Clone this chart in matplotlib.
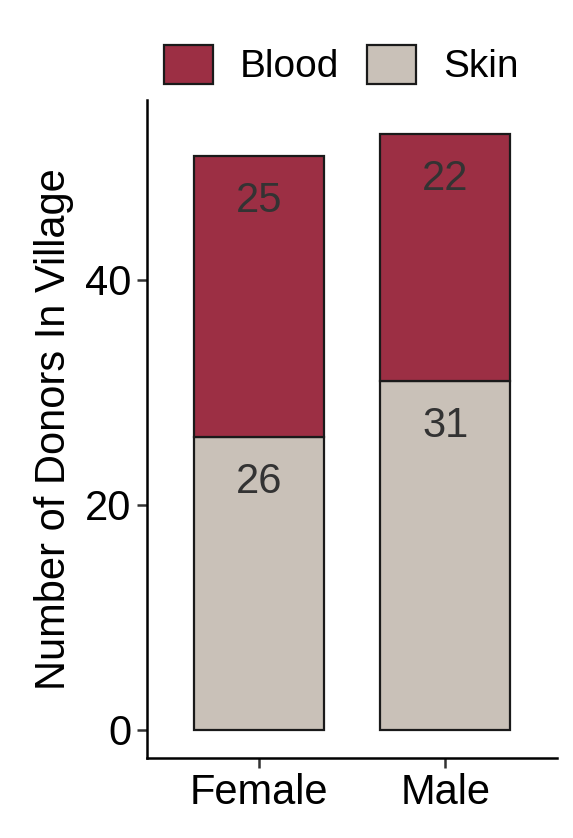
import matplotlib
matplotlib.use("Agg")
import matplotlib.pyplot as plt
from matplotlib.patches import Patch

plt.rcParams['font.family'] = ['Liberation Sans', 'DejaVu Sans']

categories = ["Female", "Male"]
skin = [26, 31]
blood = [25, 22]
series_names = ["Blood", "Skin"]
yticks = [0, 20, 40]

c_blood = "#9C2F44"
c_skin = "#C9C1B8"

fig = plt.figure(figsize=(5.73, 8.38), dpi=100)
ax = fig.add_axes([147/573, 80/838, 410/573, 658/838])

x = [1, 2]
ax.bar(x, skin, width=0.7, color=c_skin, edgecolor="#1a1a1a", linewidth=1.6)
ax.bar(x, blood, width=0.7, bottom=skin, color=c_blood, edgecolor="#1a1a1a", linewidth=1.6)

for xi, s, b in zip(x, skin, blood):
    ax.text(xi, s - 4.0, str(s), ha="center", va="center", fontsize=30, color="#333333")
    ax.text(xi, s + b - 4.0, str(b), ha="center", va="center", fontsize=30, color="#333333")

ax.set_xlim(0.4, 2.6)
ax.set_ylim(-2.5, 56)
ax.set_xticks(x)
ax.set_xticklabels(categories)
ax.set_yticks(yticks)
ax.tick_params(axis="both", labelsize=30, length=7, width=1.8, color="#333333", labelcolor="black", pad=4)
for side in ["top", "right"]:
    ax.spines[side].set_visible(False)
for side in ["left", "bottom"]:
    ax.spines[side].set_linewidth(1.8)
ax.set_ylabel("Number of Donors In Village", fontsize=30, labelpad=8)

handles = [Patch(facecolor=c_blood, edgecolor="#1a1a1a", linewidth=1.6),
           Patch(facecolor=c_skin, edgecolor="#1a1a1a", linewidth=1.6)]
fig.legend(handles, series_names, loc="center", bbox_to_anchor=(341/573, 1 - 65/838),
           ncol=2, frameon=False, fontsize=28, handlelength=1.26, handleheight=1.18,
           handletextpad=0.7, columnspacing=0.7)

fig.savefig("out.png", dpi=100)
